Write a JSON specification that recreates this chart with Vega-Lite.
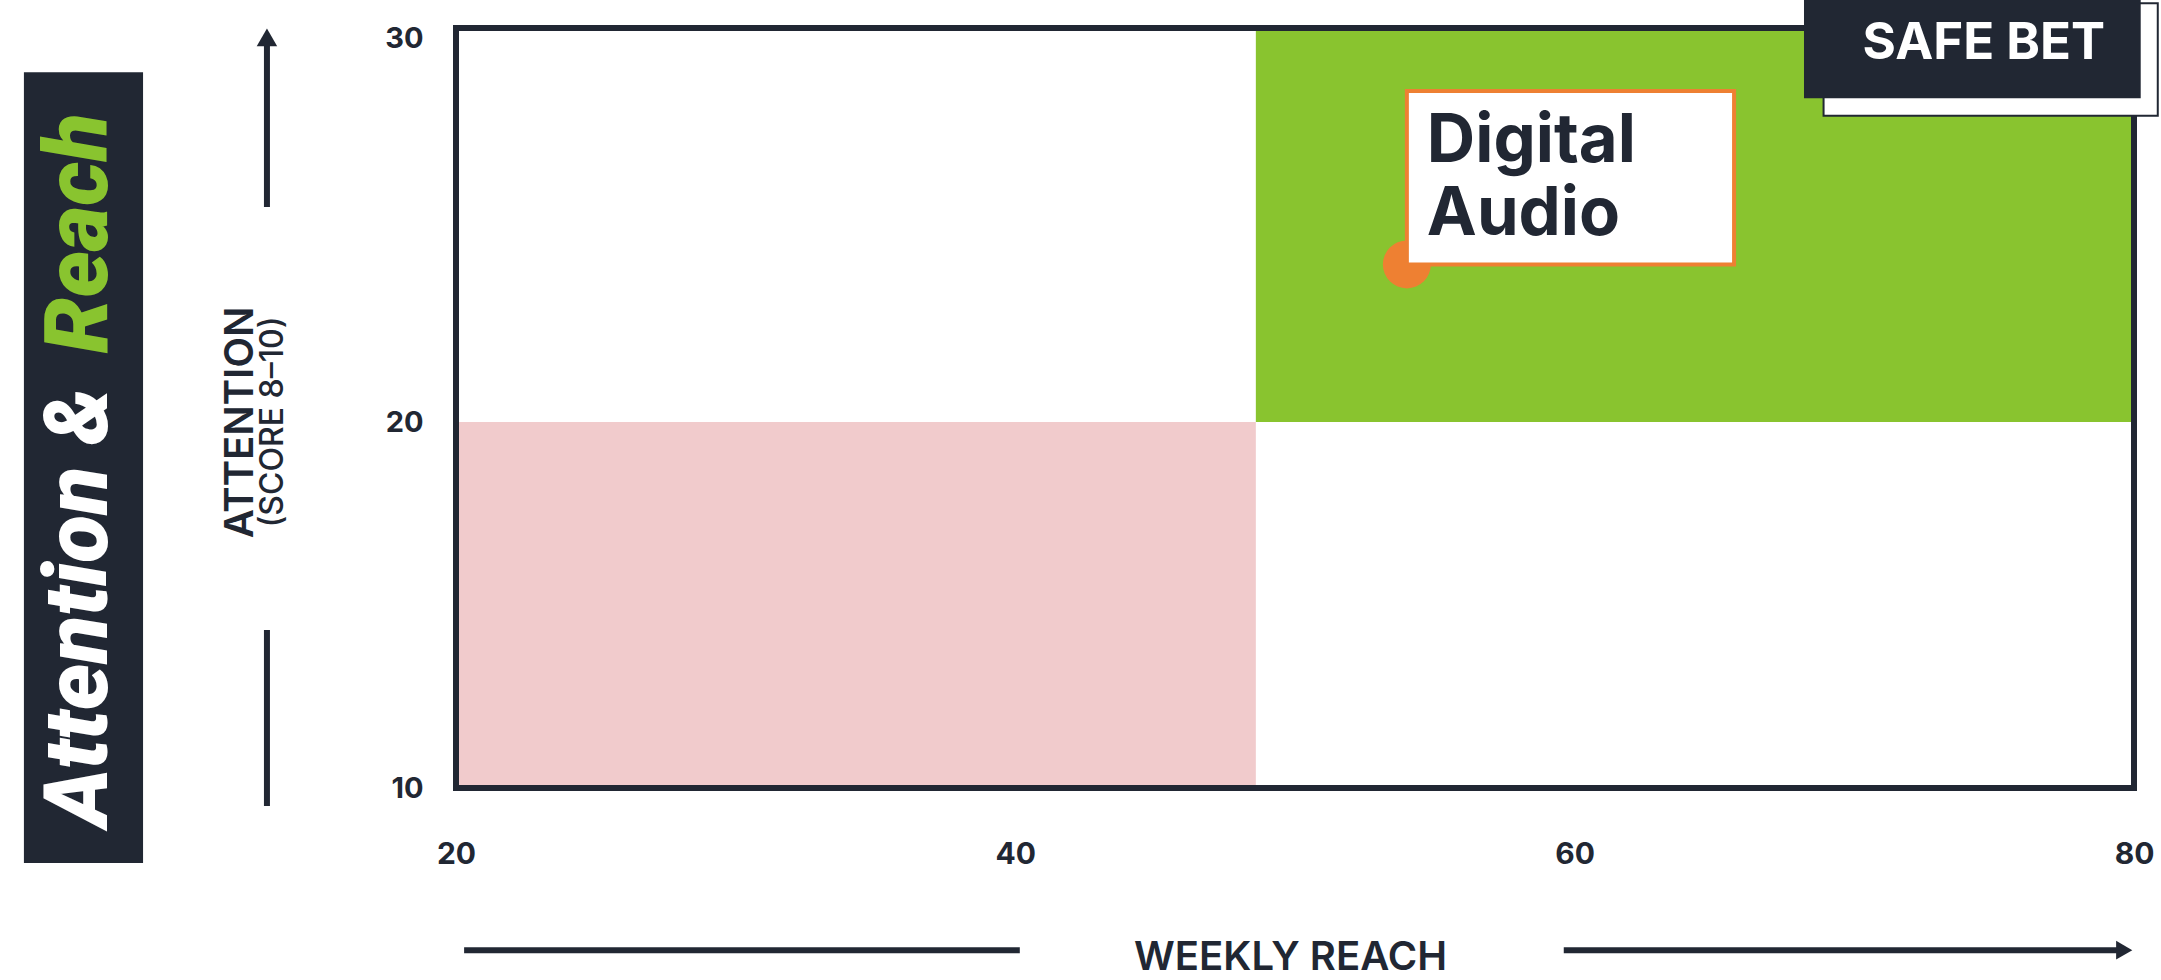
{
  "$schema": "https://vega.github.io/schema/vega-lite/v6.json",
  "width": 1678,
  "height": 760,
  "autosize": {"type": "none"},
  "padding": {"left": 456, "top": 28, "right": 27, "bottom": 192},
  "background": "white",
  "config": {"view": {"stroke": null}, "font": "Inter"},
  "datasets": {
    "zones": [
      {"zone": "Low attention, low reach", "reach_from": 20, "reach_to": 48.6, "attention_from": 10, "attention_to": 20},
      {"zone": "Safe bet", "reach_from": 48.6, "reach_to": 80, "attention_from": 20, "attention_to": 30}
    ],
    "channels": [
      {"channel": "Digital Audio", "reach": 54, "attention": 24}
    ]
  },
  "layer": [
    {
      "data": {"name": "zones"},
      "mark": {"type": "rect"},
      "encoding": {
        "x": {
          "field": "reach_from", "type": "quantitative",
          "scale": {"domain": [20, 80], "nice": false, "zero": false},
          "axis": {
            "values": [20, 40, 60, 80], "domain": false, "ticks": false, "tickSize": 0, "grid": false,
            "labelFont": "Inter", "labelFontSize": 30, "labelFontWeight": 700, "labelColor": "#212733",
            "labelAlign": "center", "labelBaseline": "alphabetic", "labelPadding": 75, "labelFlush": false,
            "title": "WEEKLY REACH", "titleFont": "Inter", "titleFontSize": 40, "titleFontWeight": 600,
            "titleColor": "#212733", "titleBaseline": "alphabetic", "titleAlign": "center", "titleX": 834, "titleY": 181
          }
        },
        "x2": {"field": "reach_to"},
        "y": {
          "field": "attention_from", "type": "quantitative",
          "scale": {"domain": [10, 20, 30], "range": [760, 394, 0], "nice": false, "zero": false},
          "axis": {
            "values": [10, 20, 30], "domain": false, "ticks": false, "tickSize": 0, "grid": false,
            "labelFont": "Inter", "labelFontSize": 29, "labelFontWeight": 700, "labelColor": "#212733",
            "labelAlign": "right", "labelBaseline": "middle", "labelPadding": 33, "labelFlush": false,
            "labelOffset": {"condition": {"test": "datum.value == 30", "value": 10}, "value": 0},
            "title": "ATTENTION", "titleFont": "Inter", "titleFontSize": 40, "titleFontWeight": 600,
            "titleColor": "#212733", "titleAngle": 270, "titleBaseline": "alphabetic", "titleAlign": "center",
            "titleX": -204, "titleY": 394
          }
        },
        "y2": {"field": "attention_to"},
        "color": {
          "field": "zone", "type": "nominal",
          "scale": {"domain": ["Low attention, low reach", "Safe bet"], "range": ["#F1CBCC", "#89C42F"]},
          "legend": null
        }
      }
    },
    {
      "data": {"values": [{}]},
      "mark": {"type": "rect", "filled": false, "color": "#212733", "strokeWidth": 6},
      "encoding": {
        "x": {"datum": 20}, "x2": {"datum": 80},
        "y": {"datum": 30}, "y2": {"datum": 10}
      }
    },
    {
      "data": {"name": "channels"},
      "mark": {"type": "point", "shape": "circle", "filled": true, "size": 2304, "color": "#EE8032", "opacity": 1},
      "encoding": {
        "x": {"field": "reach", "type": "quantitative"},
        "y": {"field": "attention", "type": "quantitative"}
      }
    },
    {
      "data": {"name": "channels"},
      "mark": {"type": "rect", "fill": "#FFFFFF", "stroke": "#EE8032", "strokeWidth": 4},
      "encoding": {
        "x": {"field": "reach", "type": "quantitative"},
        "x2": {"datum": 65.7},
        "y": {"field": "attention", "type": "quantitative"},
        "y2": {"datum": 28.4}
      }
    },
    {
      "data": {"name": "channels"},
      "mark": {"type": "text", "align": "left", "baseline": "alphabetic", "dx": 20, "dy": -102, "lineBreak": " ", "lineHeight": 73, "font": "Inter", "fontSize": 67, "fontWeight": 700, "color": "#212733"},
      "encoding": {
        "x": {"field": "reach", "type": "quantitative"},
        "y": {"field": "attention", "type": "quantitative"},
        "text": {"field": "channel"}
      }
    },
    {
      "data": {"values": [{}]},
      "mark": {"type": "rect", "fill": "#FFFFFF", "stroke": "#212733", "strokeWidth": 2},
      "encoding": {
        "x": {"datum": 68.9}, "x2": {"datum": 80.85},
        "y": {"datum": 30.63}, "y2": {"datum": 27.77}
      }
    },
    {
      "data": {"values": [{}]},
      "mark": {"type": "rect", "fill": "#212733"},
      "encoding": {
        "x": {"datum": 68.2}, "x2": {"datum": 80.24},
        "y": {"datum": 30.8}, "y2": {"datum": 28.22}
      }
    },
    {
      "data": {"values": [{}]},
      "mark": {"type": "text", "text": "SAFE BET", "align": "center", "baseline": "alphabetic", "font": "Inter", "fontSize": 51, "fontWeight": 700, "color": "#FFFFFF"},
      "encoding": {
        "x": {"datum": 74.63}, "y": {"datum": 29.21}
      }
    },
    {
      "data": {"values": [{}]},
      "mark": {"type": "rect", "fill": "#212733"},
      "encoding": {
        "x": {"datum": 4.55}, "x2": {"datum": 8.81},
        "y": {"datum": 28.88}, "y2": {"datum": 7.95}
      }
    },
    {
      "data": {"values": [{}]},
      "mark": {"type": "text", "text": "Attention &", "angle": 270, "align": "left", "baseline": "alphabetic", "font": "Roboto", "fontSize": 88, "fontWeight": 900, "fontStyle": "italic", "color": "#FFFFFF"},
      "encoding": {
        "x": {"datum": 7.52}, "y": {"datum": 8.95}
      }
    },
    {
      "data": {"values": [{}]},
      "mark": {"type": "text", "text": "Reach", "angle": 270, "align": "right", "baseline": "alphabetic", "font": "Roboto", "fontSize": 88, "fontWeight": 900, "fontStyle": "italic", "color": "#89C42F"},
      "encoding": {
        "x": {"datum": 7.52}, "y": {"datum": 27.84}
      }
    },
    {
      "data": {"values": [{}]},
      "mark": {"type": "text", "text": "(SCORE 8–10)", "angle": 270, "align": "center", "baseline": "alphabetic", "font": "Inter", "fontSize": 32, "fontWeight": 500, "color": "#212733"},
      "encoding": {
        "x": {"datum": 13.81}, "y": {"datum": 20}
      }
    },
    {
      "data": {"values": [{}]},
      "mark": {"type": "rule", "color": "#212733", "strokeWidth": 6},
      "encoding": {
        "x": {"datum": 13.24}, "y": {"datum": 29.55}, "y2": {"datum": 25.46}
      }
    },
    {
      "data": {"values": [{}]},
      "mark": {"type": "rule", "color": "#212733", "strokeWidth": 6},
      "encoding": {
        "x": {"datum": 13.24}, "y": {"datum": 14.32}, "y2": {"datum": 9.51}
      }
    },
    {
      "data": {"values": [{}]},
      "mark": {"type": "point", "shape": "triangle-up", "filled": true, "size": 420, "color": "#212733", "opacity": 1},
      "encoding": {
        "x": {"datum": 13.24}, "y": {"datum": 29.76}
      }
    },
    {
      "data": {"values": [{}]},
      "mark": {"type": "rule", "color": "#212733", "strokeWidth": 6},
      "encoding": {
        "x": {"datum": 20.29}, "x2": {"datum": 40.16}, "y": {"datum": 5.57}
      }
    },
    {
      "data": {"values": [{}]},
      "mark": {"type": "rule", "color": "#212733", "strokeWidth": 6},
      "encoding": {
        "x": {"datum": 59.61}, "x2": {"datum": 79.42}, "y": {"datum": 5.57}
      }
    },
    {
      "data": {"values": [{}]},
      "mark": {"type": "point", "shape": "triangle-right", "filled": true, "size": 350, "color": "#212733", "opacity": 1},
      "encoding": {
        "x": {"datum": 79.65}, "y": {"datum": 5.57}
      }
    }
  ]
}
